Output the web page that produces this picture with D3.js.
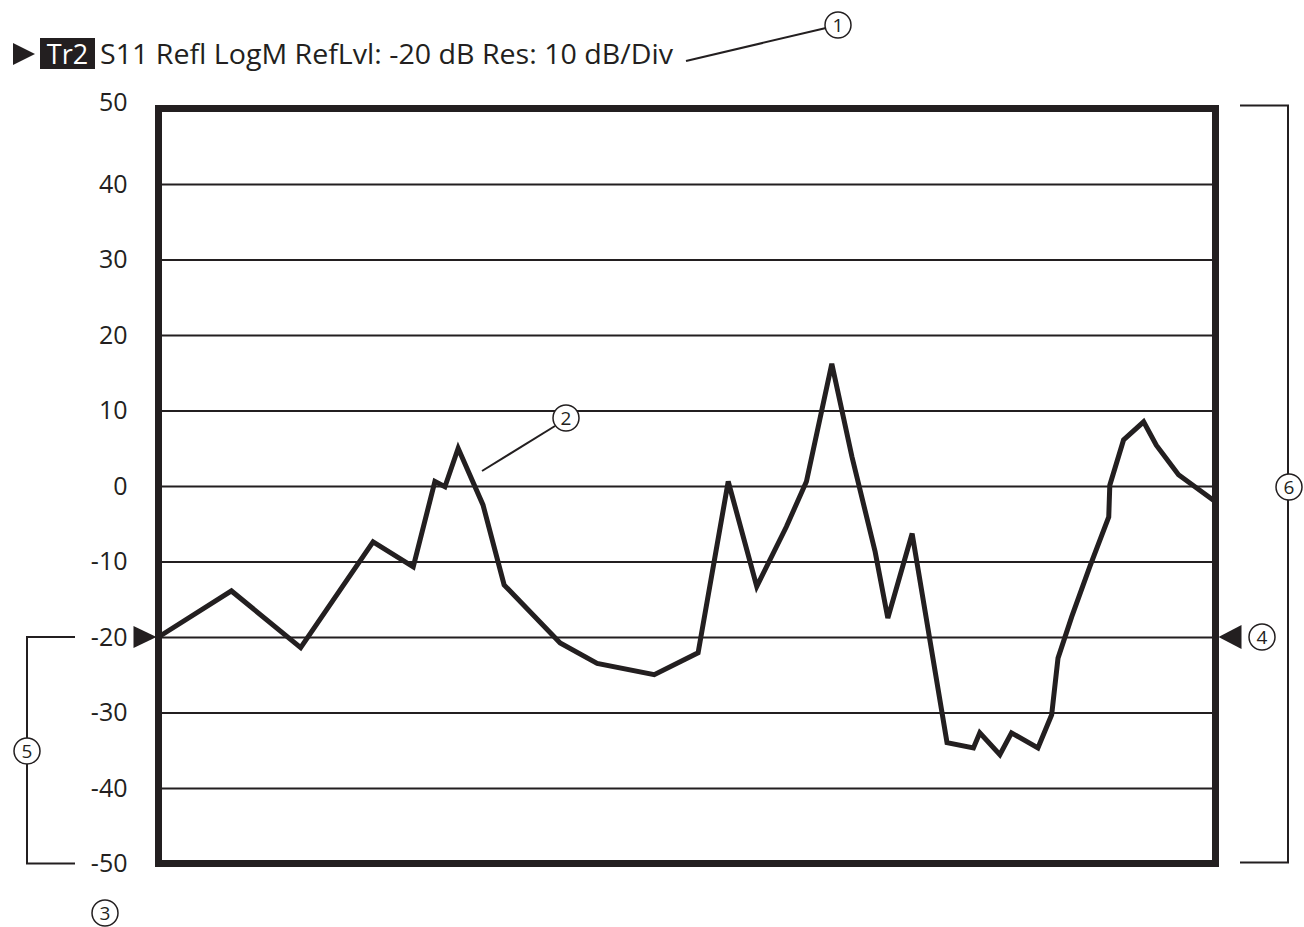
<!DOCTYPE html>
<html>
<head>
<meta charset="utf-8">
<script src="https://cdn.jsdelivr.net/npm/d3@7"></script>
<style>
  body { margin: 0; background: #fff; }
  svg { display: block; font-family: "Open Sans", sans-serif; }
</style>
</head>
<body>
<svg id="chart" width="1304" height="927"></svg>
<script>
// trace S11 (dB) against sweep position (0..100 % of span)
const sweep = [0, 6.9, 13.45, 20.3, 24.1, 26.15, 27.1, 28.35, 30.7, 32.7, 38, 41.5, 46.9, 51.05,
  53.9, 56.6, 59.4, 61.3, 63.7, 65.6, 67.8, 69.0, 71.3, 74.6, 77.1, 77.7, 79.6, 80.7, 83.2,
  84.5, 85.1, 86.4, 88.1, 89.9, 90.0, 91.3, 93.2, 94.4, 96.5, 100];
const s11 = [-20, -13.9, -21.4, -7.4, -10.7, 0.6, -0.1, 5.0, -2.5, -13.1, -20.8, -23.5, -25.0, -22.1,
  0.6, -13.3, -5.4, 0.6, 16.2, 3.9, -8.7, -17.5, -6.3, -34.0, -34.7, -32.7, -35.6, -32.7, -34.7,
  -30.3, -22.8, -17.3, -10.7, -4.1, 0.1, 6.1, 8.5, 5.4, 1.5, -2.1];
const yTicks = [50, 40, 30, 20, 10, 0, -10, -20, -30, -40, -50];
const refLevel = -20;
const traceName = 'Tr2';
const title = 'S11 Refl LogM RefLvl: -20 dB Res: 10 dB/Div';

const ink = '#231f20';
const svg = d3.select('#chart');

const plot = { left: 158.5, right: 1215.5, top: 108.5, bottom: 863.5 };
const x = d3.scaleLinear().domain([0, 100]).range([plot.left, plot.right]);
const y = d3.scaleLinear().domain([-50, 50]).range([plot.bottom, plot.top]);

// gridlines + labels (plain hyphen, like the instrument font)
const yAxis = svg.append('g')
  .attr('transform', `translate(${plot.left},0)`)
  .call(d3.axisLeft(y).tickValues(yTicks)
    .tickSize(-(plot.right - plot.left)).tickPadding(31)
    .tickFormat(d => String(d)));
yAxis.select('.domain').remove();
yAxis.selectAll('.tick line').attr('stroke', ink).attr('stroke-width', 2);
yAxis.selectAll('.tick text')
  .attr('fill', ink)
  .style('font-size', '25px')
  .style('font-family', '"Open Sans", sans-serif');
// top label sits a little above the frame
yAxis.selectAll('.tick text').filter(d => d === 50).attr('y', -6);

// trace
const pts = sweep.map((s, i) => [s, s11[i]]);
svg.append('path')
  .datum(pts)
  .attr('fill', 'none')
  .attr('stroke', ink)
  .attr('stroke-width', 5)
  .attr('stroke-linejoin', 'miter')
  .attr('d', d3.line().x(d => x(d[0])).y(d => y(d[1])));

// frame
svg.append('rect')
  .attr('x', plot.left).attr('y', plot.top)
  .attr('width', plot.right - plot.left).attr('height', plot.bottom - plot.top)
  .attr('fill', 'none')
  .attr('stroke', ink)
  .attr('stroke-width', 7);

// reference level markers
const ry = y(refLevel);
svg.append('path').attr('fill', ink)
  .attr('d', `M${plot.left - 2},${ry} L${plot.left - 25},${ry - 11} L${plot.left - 25},${ry + 11} Z`);
svg.append('path').attr('fill', ink)
  .attr('d', `M${plot.right + 3},${ry} L${plot.right + 26},${ry - 12} L${plot.right + 26},${ry + 12} Z`);

// title line
svg.append('path').attr('fill', ink).attr('d', 'M13,43 L35,54 L13,65 Z');
svg.append('rect').attr('x', 40).attr('y', 38).attr('width', 55).attr('height', 31).attr('fill', ink);
svg.append('text').attr('x', 67.5).attr('y', 64).attr('text-anchor', 'middle')
  .attr('fill', '#fff').style('font-size', '27px').text(traceName);
svg.append('text').attr('x', 100).attr('y', 64)
  .attr('fill', ink).style('font-size', '27px')
  .attr('textLength', 573).attr('lengthAdjust', 'spacingAndGlyphs')
  .text(title);

// brackets
const bracket = svg.append('g').attr('fill', 'none').attr('stroke', ink).attr('stroke-width', 2);
bracket.append('path').attr('d', `M75,${ry} H27 V${plot.bottom} H75`);
bracket.append('path').attr('d', `M1240,${plot.top - 3} H1288 V${plot.bottom - 1} H1240`);

// leader lines
const leaders = svg.append('g').attr('stroke', ink).attr('stroke-width', 2);
leaders.append('line').attr('x1', 686).attr('y1', 61).attr('x2', 826).attr('y2', 28);
leaders.append('line').attr('x1', 482).attr('y1', 471).attr('x2', 555).attr('y2', 426);

// numbered callouts
const callouts = [
  { n: '1', cx: 838, cy: 25 },
  { n: '2', cx: 566, cy: 418 },
  { n: '3', cx: 105, cy: 913 },
  { n: '4', cx: 1262, cy: ry },
  { n: '5', cx: 27, cy: 751 },
  { n: '6', cx: 1289, cy: 487 }
];
const c = svg.append('g').selectAll('g').data(callouts).join('g')
  .attr('transform', d => `translate(${d.cx},${d.cy})`);
c.append('circle').attr('r', 13).attr('fill', '#fff').attr('stroke', ink).attr('stroke-width', 1.5);
c.append('text').attr('text-anchor', 'middle').attr('dy', '0.36em')
  .attr('fill', ink).style('font-size', '19px').text(d => d.n);
</script>
</body>
</html>
